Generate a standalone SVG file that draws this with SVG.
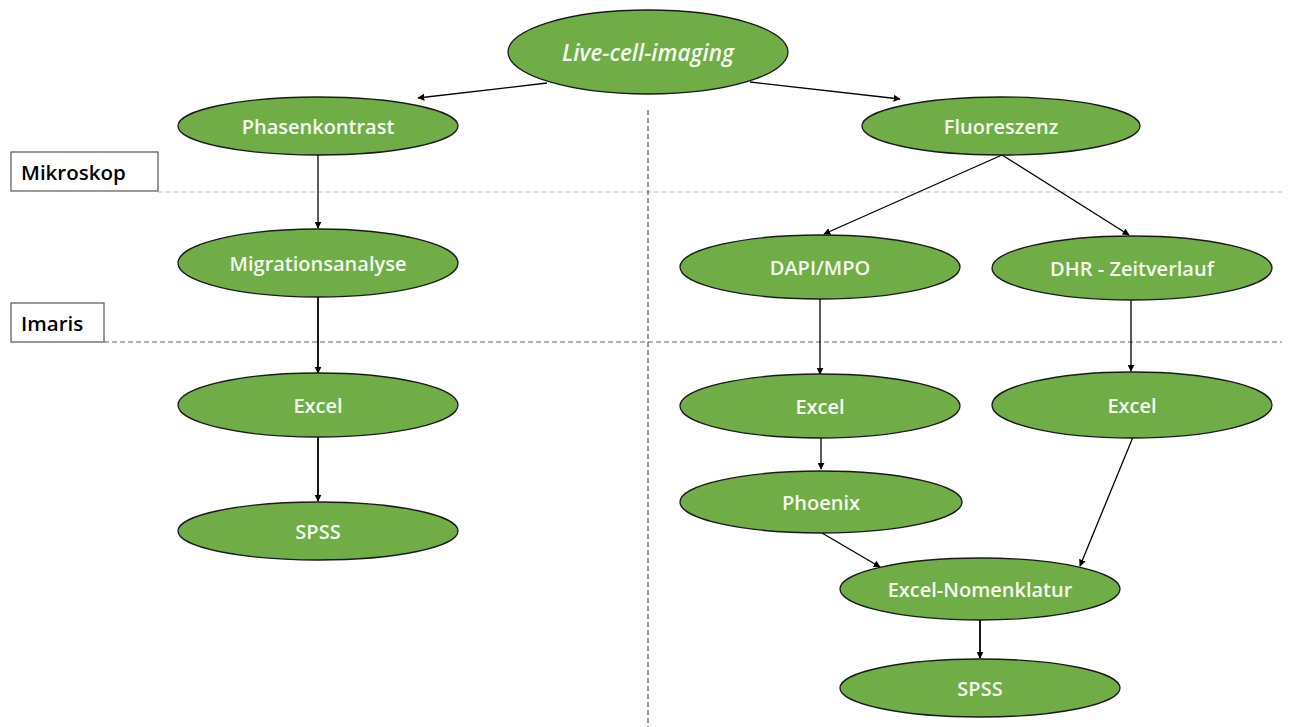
<svg xmlns="http://www.w3.org/2000/svg" width="1290" height="727" viewBox="0 0 1290 727">
<style>
.n ellipse{fill:#70AD47;stroke:#1a1a1a;stroke-width:1.3}
.n text{fill:#f4f9ef;font-family:"Open Sans","Liberation Sans",sans-serif;font-weight:600;font-size:20px;text-anchor:middle;dominant-baseline:central}
.lab rect{fill:#fff;stroke:#555;stroke-width:1.2}
.lab text{fill:#000;font-family:"Open Sans","Liberation Sans",sans-serif;font-weight:600;font-size:20.5px;dominant-baseline:central}
.c line{stroke:#000;stroke-width:1.3;marker-end:url(#ah)}
.c line.t{stroke-width:1.8}
</style>
<defs>
<marker id="ah" viewBox="0 0 10 10" refX="9" refY="5" markerWidth="7" markerHeight="7" markerUnits="userSpaceOnUse" orient="auto">
<path d="M0,0 L10,5 L0,10 z" fill="#000"/>
</marker>
</defs>
<rect width="1290" height="727" fill="#fff"/>
<g id="guides">
<line x1="158" y1="192" x2="1282" y2="192" stroke="#b8b8b8" stroke-width="1.2" stroke-dasharray="5,3"/>
<line x1="104" y1="342" x2="1282" y2="342" stroke="#666" stroke-width="1.2" stroke-dasharray="5,3"/>
<line x1="648" y1="110" x2="648" y2="727" stroke="#333" stroke-width="1" stroke-dasharray="5,3"/>
</g>
<g id="label-mikroskop" class="lab"><rect x="11" y="152" width="147" height="39"/><text x="21" y="172">Mikroskop</text></g>
<g id="label-imaris" class="lab"><rect x="11" y="303" width="93" height="39"/><text x="21" y="323">Imaris</text></g>
<g id="connectors" class="c">
<line x1="547" y1="83" x2="418" y2="98"/>
<line x1="750" y1="82" x2="900" y2="99"/>
<line x1="318" y1="155" x2="318" y2="228"/>
<line class="t" x1="318" y1="297" x2="318" y2="373"/>
<line class="t" x1="318" y1="437" x2="318" y2="501"/>
<line x1="1002" y1="155" x2="824" y2="234"/>
<line x1="1002" y1="155" x2="1129" y2="235"/>
<line x1="820" y1="298" x2="820" y2="374"/>
<line x1="1131" y1="300" x2="1131" y2="371"/>
<line x1="821" y1="438" x2="821" y2="469"/>
<line x1="822" y1="533" x2="880" y2="567"/>
<line x1="1133" y1="437" x2="1080" y2="566"/>
<line class="t" x1="980" y1="620" x2="980" y2="658"/>
</g>
<g id="live" class="n"><ellipse cx="648" cy="52" rx="140" ry="42"/><text x="648" y="52" font-style="italic" style="font-size:22.5px">Live-cell-imaging</text></g>
<g id="phasenkontrast" class="n"><ellipse cx="318" cy="126" rx="140" ry="29"/><text x="318" y="126">Phasenkontrast</text></g>
<g id="fluoreszenz" class="n"><ellipse cx="1001" cy="126" rx="139" ry="29"/><text x="1001" y="126">Fluoreszenz</text></g>
<g id="migrationsanalyse" class="n"><ellipse cx="318" cy="263" rx="140" ry="34"/><text x="318" y="263">Migrationsanalyse</text></g>
<g id="dapi" class="n"><ellipse cx="820" cy="267" rx="140" ry="32"/><text x="820" y="267">DAPI/MPO</text></g>
<g id="dhr" class="n"><ellipse cx="1132" cy="268" rx="140" ry="32"/><text x="1132" y="268">DHR - Zeitverlauf</text></g>
<g id="excel-left" class="n"><ellipse cx="318" cy="405" rx="140" ry="32"/><text x="318" y="405">Excel</text></g>
<g id="excel-mid" class="n"><ellipse cx="820" cy="406" rx="140" ry="32"/><text x="820" y="406">Excel</text></g>
<g id="excel-right" class="n"><ellipse cx="1132" cy="405" rx="140" ry="33"/><text x="1132" y="405">Excel</text></g>
<g id="spss-left" class="n"><ellipse cx="318" cy="531" rx="140" ry="29"/><text x="318" y="531">SPSS</text></g>
<g id="phoenix" class="n"><ellipse cx="821" cy="502" rx="141" ry="31"/><text x="821" y="502">Phoenix</text></g>
<g id="excel-nomenklatur" class="n"><ellipse cx="980" cy="589" rx="140" ry="31"/><text x="980" y="589">Excel-Nomenklatur</text></g>
<g id="spss-right" class="n"><ellipse cx="980" cy="688" rx="140" ry="29"/><text x="980" y="688">SPSS</text></g>
</svg>
